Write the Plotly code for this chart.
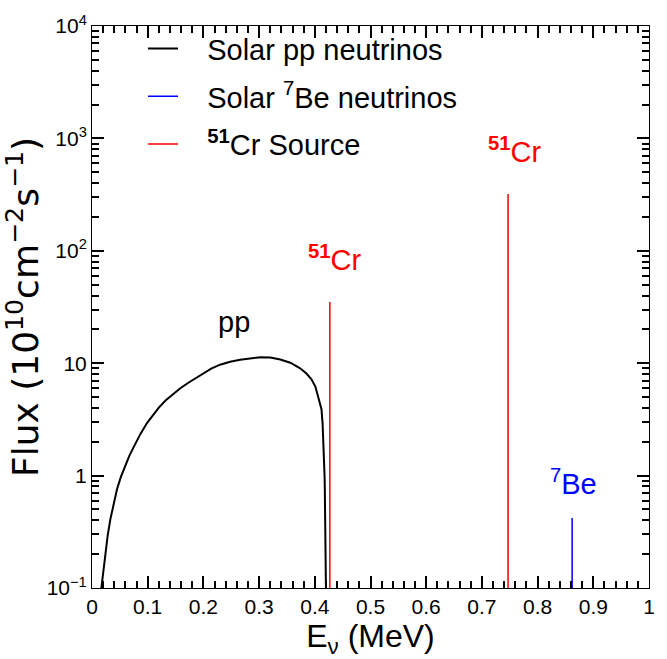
import math
import plotly.graph_objects as go

# pp neutrino spectrum, flux in 10^10 cm^-2 s^-1 MeV^-1
pp_E = [0.0168, 0.020, 0.024, 0.028, 0.033, 0.039, 0.045, 0.052, 0.060, 0.067, 0.075, 0.087,
        0.099, 0.110, 0.120, 0.132, 0.144, 0.158, 0.173, 0.187, 0.200, 0.214, 0.230, 0.248, 0.266,
        0.284, 0.302, 0.320, 0.338, 0.356, 0.373, 0.385, 0.394, 0.401, 0.406, 0.410, 0.412,
        0.414, 0.4155, 0.4165, 0.4175, 0.418, 0.419, 0.4197, 0.420]
pp_flux = [0.10, 0.14, 0.21, 0.29, 0.41, 0.57, 0.76, 0.98, 1.25, 1.50, 1.80, 2.35,
           2.95, 3.50, 4.02, 4.65, 5.25, 5.95, 6.70, 7.40, 8.15, 8.95, 9.70, 10.3, 10.75,
           11.1, 11.3, 11.25, 10.8, 10.1, 9.05, 8.1, 7.2, 6.2, 5.1, 4.4, 3.9,
           2.9, 2.0, 1.44, 1.0, 0.75, 0.38, 0.2, 0.1]

cr_E = [0.427, 0.747]
cr_flux = [35, 320]
be_E = [0.862]
be_flux = [0.42]
y_floor = 0.1

xticks = [0, 0.1, 0.2, 0.3, 0.4, 0.5, 0.6, 0.7, 0.8, 0.9, 1]
xticktext = ["0", "0.1", "0.2", "0.3", "0.4", "0.5", "0.6", "0.7", "0.8", "0.9", "1"]
yticks = [0.1, 1, 10, 100, 1000, 10000]
yticktext = ["10<sup>−1</sup>", "1", "10", "10<sup>2</sup>", "10<sup>3</sup>", "10<sup>4</sup>"]

FONT = "Liberation Sans"
fig = go.Figure()

fig.add_trace(go.Scatter(x=pp_E, y=pp_flux, mode="lines", line=dict(color="black", width=2),
                         name="&nbsp;&nbsp;&nbsp;Solar pp neutrinos", legendgroup="a"))
fig.add_trace(go.Scatter(x=[be_E[0], be_E[0]], y=[y_floor, be_flux[0]], mode="lines",
                         line=dict(color="blue", width=1.5),
                         name="&nbsp;&nbsp;&nbsp;Solar <sup>7</sup>Be neutrinos", legendgroup="b"))
for i, (e, f) in enumerate(zip(cr_E, cr_flux)):
    fig.add_trace(go.Scatter(x=[e, e], y=[y_floor, f], mode="lines", line=dict(color="red", width=1.5),
                             name="&nbsp;&nbsp;&nbsp;<sup><b>51</b></sup>Cr Source", legendgroup="c",
                             showlegend=(i == 0)))

def label(x, y, text, color):
    fig.add_annotation(x=x, y=math.log10(y), text=text, showarrow=False,
                       xanchor="center", yanchor="middle",
                       font=dict(family=FONT, size=29, color=color))

label(0.255, 10 ** 1.365, "pp", "black")
label(0.436, 10 ** 1.94, "<sup><b>51</b></sup>Cr", "red")
label(0.760, 10 ** 2.9, "<sup><b>51</b></sup>Cr", "red")
label(0.864, 10 ** -0.061, "<sup>7</sup>Be", "blue")

fig.update_layout(
    template="simple_white",
    width=667, height=659,
    margin=dict(l=92, r=18, t=15, b=69),
    font=dict(family=FONT, size=21, color="black"),
    showlegend=True,
    legend=dict(x=0.0916, y=1.005, xanchor="left", yanchor="top", bgcolor="rgba(0,0,0,0)",
                font=dict(family=FONT, size=29), itemwidth=30, tracegroupgap=7),
    xaxis=dict(range=[0, 1], tickvals=xticks, ticktext=xticktext, ticks="inside", ticklen=12,
               tickwidth=2, tickcolor="#000000", showline=True, linecolor="#000000", mirror="ticks",
               minor=dict(ticks="inside", ticklen=7, dtick=0.02, tickcolor="#000000", tickwidth=1.5),
               title=dict(text="E<sub>ν</sub> (MeV)", font=dict(family=FONT, size=32),
                          standoff=6)),
    yaxis=dict(type="log", range=[-1, 4], tickvals=yticks, ticktext=yticktext, ticks="inside",
               ticklen=12, tickwidth=2, tickcolor="#000000", showline=True, linecolor="#000000",
               mirror="ticks",
               minor=dict(ticks="inside", ticklen=7, dtick="D1", tickcolor="#000000", tickwidth=1.5),
               title=dict(text="Flux (10<sup>10</sup>cm<sup>−2</sup>s<sup>−1</sup>)",
                          font=dict(family="DejaVu Sans", size=36), standoff=2)),
)

fig.write_html("out.html")
